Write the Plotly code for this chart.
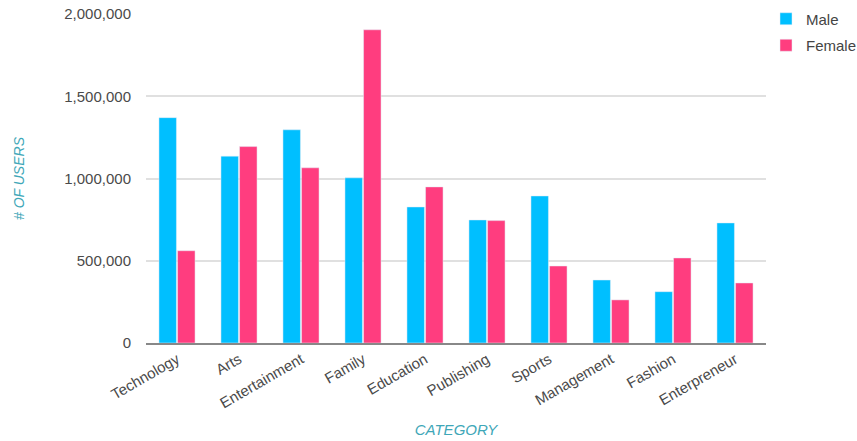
import plotly.graph_objects as go

categories = ["Technology", "Arts", "Entertainment", "Family", "Education",
              "Publishing", "Sports", "Management", "Fashion", "Enterpreneur"]
male = [1370000, 1136000, 1296000, 1004000, 827000, 748000, 894000, 383000, 312000, 730000]
female = [561000, 1194000, 1065000, 1904000, 949000, 744000, 468000, 262000, 517000, 365000]

fig = go.Figure()
fig.add_trace(go.Bar(name="Male", x=categories, y=male, marker_color="#00BFFF",
                     legendgroup="m"))
fig.add_trace(go.Bar(name="Female", x=categories, y=female, marker_color="#FF3D7F",
                     legendgroup="f"))

teal = "#3FA7B8"
fig.update_layout(
    width=857, height=441,
    margin=dict(l=146, r=91, t=14, b=98, autoexpand=False),
    paper_bgcolor="white", plot_bgcolor="white",
    barmode="group", bargap=0.4, bargroupgap=0.06,
    font=dict(family="Liberation Sans, Arial", size=15, color="#4a4a4a"),
    legend=dict(x=1.0, xanchor="left", y=1.035, yanchor="top",
                font=dict(size=15, color="#444444"), tracegroupgap=4,
                itemwidth=30),
    xaxis=dict(tickangle=-30, showgrid=False, showline=True, linecolor="#888888",
               linewidth=2, ticks="",
               title=dict(text="<i>CATEGORY</i>", font=dict(size=15, color=teal), standoff=14)),
    yaxis=dict(range=[0, 2000000], tickvals=[0, 500000, 1000000, 1500000, 2000000],
               tickformat=",d", gridcolor="#E0E0E0", gridwidth=2, zeroline=False,
               ticklabelstandoff=14,
               title=dict(text="<i># OF USERS</i>", font=dict(size=14, color=teal), standoff=36)),
)

fig.write_html("out.html")
